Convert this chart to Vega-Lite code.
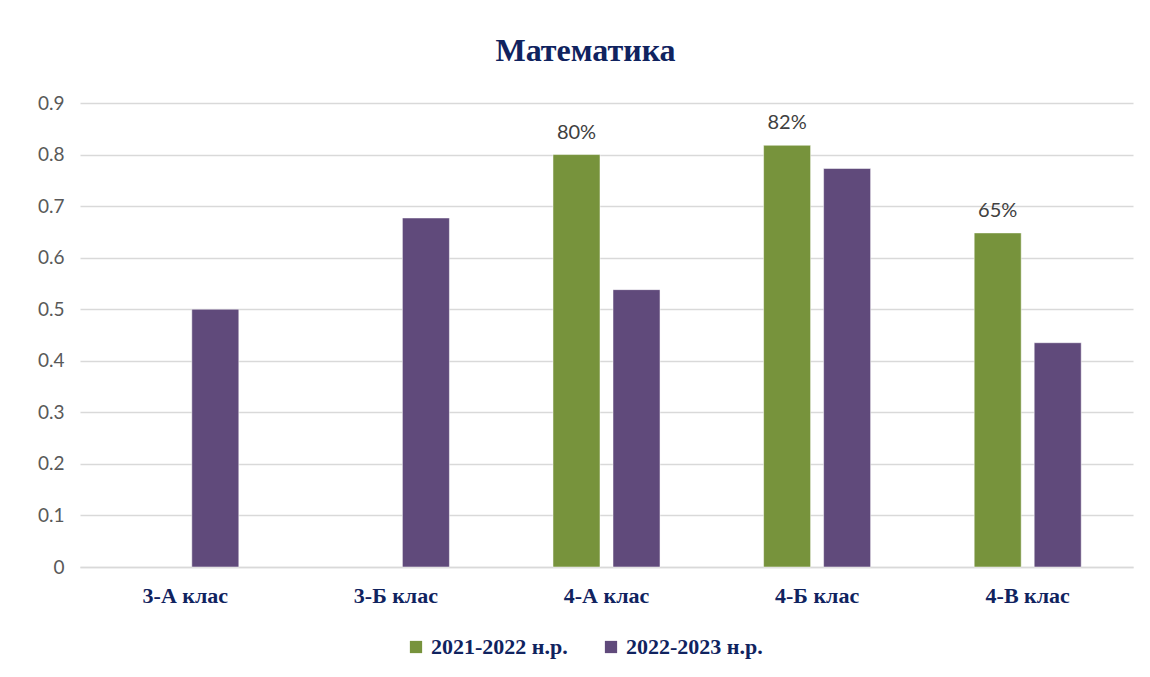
{
  "$schema": "https://vega.github.io/schema/vega-lite/v6.json",
  "width": 1053,
  "height": 464,
  "autosize": {"type": "none"},
  "padding": {"left": 80, "top": 103, "right": 17, "bottom": 110},
  "background": "white",
  "config": {"view": {"stroke": null}},
  "title": {
    "text": "Математика",
    "font": "Liberation Serif",
    "fontSize": 32,
    "fontWeight": "bold",
    "color": "#10235f",
    "anchor": "middle",
    "dx": -21,
    "offset": 26
  },
  "data": {
    "values": [
      {"class": "3-А клас", "year": "2022-2023 н.р.", "value": 0.5},
      {"class": "3-Б клас", "year": "2022-2023 н.р.", "value": 0.677},
      {"class": "4-А клас", "year": "2021-2022 н.р.", "value": 0.8},
      {"class": "4-А клас", "year": "2022-2023 н.р.", "value": 0.538},
      {"class": "4-Б клас", "year": "2021-2022 н.р.", "value": 0.818},
      {"class": "4-Б клас", "year": "2022-2023 н.р.", "value": 0.773},
      {"class": "4-В клас", "year": "2021-2022 н.р.", "value": 0.648},
      {"class": "4-В клас", "year": "2022-2023 н.р.", "value": 0.435}
    ]
  },
  "encoding": {
    "x": {
      "field": "class",
      "type": "nominal",
      "sort": null,
      "scale": {"paddingInner": 0, "paddingOuter": 0},
      "axis": {
        "title": null,
        "labelAngle": 0,
        "labelFont": "Liberation Serif",
        "labelFontSize": 22,
        "labelFontWeight": "bold",
        "labelColor": "#10235f",
        "labelPadding": 18,
        "ticks": false,
        "domain": true,
        "domainColor": "#d9d9d9",
        "domainWidth": 1.5
      }
    },
    "xOffset": {
      "field": "year",
      "type": "nominal",
      "sort": ["2021-2022 н.р.", "2022-2023 н.р."],
      "scale": {"domain": ["2021-2022 н.р.", "2022-2023 н.р."], "paddingInner": 0.2167, "paddingOuter": 0.863}
    },
    "y": {
      "field": "value",
      "type": "quantitative",
      "scale": {"domain": [0, 0.9], "nice": false},
      "axis": {
        "title": null,
        "values": [0, 0.1, 0.2, 0.3, 0.4, 0.5, 0.6, 0.7, 0.8, 0.9],
        "format": ".1~f",
        "labelFont": "Lato",
        "labelFontSize": 19,
        "labelColor": "#595959",
        "labelPadding": 16,
        "ticks": false,
        "domain": false,
        "gridColor": "#d9d9d9",
        "gridWidth": 1.5
      }
    }
  },
  "layer": [
    {
      "mark": {"type": "bar", "stroke": "white", "strokeWidth": 0.5},
      "encoding": {
        "color": {
          "field": "year",
          "type": "nominal",
          "scale": {"domain": ["2021-2022 н.р.", "2022-2023 н.р."], "range": ["#77933c", "#604a7b"]},
          "legend": {
            "title": null,
            "orient": "none",
            "legendX": 325,
            "legendY": 533,
            "direction": "horizontal",
            "symbolType": "square",
            "symbolSize": 150,
            "symbolStrokeWidth": 0,
            "labelFont": "Liberation Serif",
            "labelFontSize": 22,
            "labelFontWeight": "bold",
            "labelColor": "#10235f",
            "labelOffset": 4,
            "columnPadding": 32,
            "labelLimit": 300
          }
        }
      }
    },
    {
      "transform": [{"filter": "datum.year == '2021-2022 н.р.'"}],
      "mark": {"type": "text", "baseline": "bottom", "dy": -12, "font": "Lato", "fontSize": 20, "color": "#404040"},
      "encoding": {
        "text": {"field": "value", "type": "quantitative", "format": ".0%"}
      }
    }
  ]
}
